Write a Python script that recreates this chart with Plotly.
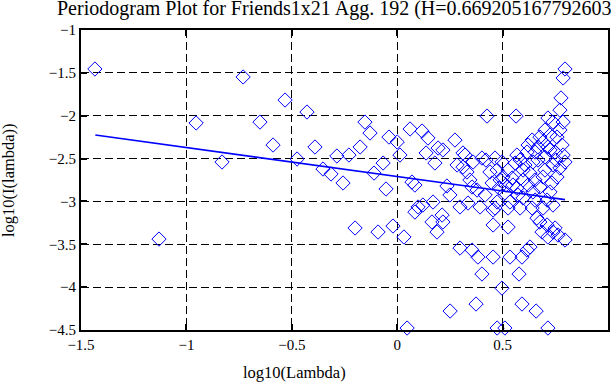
import plotly.graph_objects as go

# Periodogram points: log10(lambda) vs log10(I(lambda))
log_lambda = [
    -1.434, -1.130, -0.954, -0.831, -0.731, -0.651, -0.589, -0.532, -0.475, -0.428,
    -0.390, -0.352, -0.314, -0.286, -0.257, -0.229, -0.200, -0.176, -0.153, -0.129,
    -0.110, -0.091, -0.067, -0.053, -0.039, -0.020, 0.000, 0.013, 0.032, 0.047,
    0.061, 0.070, 0.084, 0.084, 0.099, 0.118, 0.122, 0.137, 0.146, 0.165,
    0.170, 0.179, 0.189, 0.194, 0.213, 0.217, 0.217, 0.236, 0.250, 0.251,
    0.274, 0.284, 0.298, 0.298, 0.312, 0.312, 0.322, 0.331, 0.336, 0.345,
    0.355, 0.355, 0.360, 0.374, 0.379, 0.383, 0.393, 0.402, 0.402, 0.417,
    0.421, 0.426, 0.440, 0.450, 0.455, 0.455, 0.455, 0.464, 0.464, 0.474,
    0.474, 0.474, 0.483, 0.488,
    0.497, 0.497, 0.502, 0.511, 0.511, 0.526, 0.526, 0.526, 0.535, 0.535,
    0.545, 0.559, 0.564, 0.568, 0.568, 0.578, 0.583, 0.592, 0.592, 0.597,
    0.597, 0.597, 0.616, 0.616, 0.630, 0.630, 0.640, 0.640, 0.644, 0.644,
    0.659, 0.663, 0.668, 0.677, 0.677, 0.677, 0.687, 0.692, 0.692, 0.701,
    0.701, 0.711, 0.715, 0.715, 0.715, 0.725, 0.725, 0.734, 0.739, 0.739,
    0.739, 0.749, 0.749, 0.758, 0.758, 0.772, 0.772, 0.777, 0.782, 0.787,
    0.787, 0.787, 0.796, 0.796, 0.796,
    0.549, 0.573, 0.621, 0.654, 0.606, 0.701, 0.668, 0.725, 0.654, 0.621,
    0.583, 0.692, 0.753, 0.772, 0.715, 0.516, 0.711, 0.739, 0.654, 0.763,
]
log_power = [
    -1.455, -3.439, -2.085, -2.540, -1.548, -2.074, -2.342, -1.817, -2.505, -1.957,
    -2.365, -2.622, -2.680, -2.470, -2.785, -2.459, -3.310, -2.365, -2.074, -2.202,
    -2.669, -3.357, -2.552, -2.855, -2.249, -3.287, -2.307, -2.459, -3.415, -4.477,
    -2.155, -2.774, -2.809, -3.124, -3.065, -2.179, -3.042, -2.435, -2.260, -3.240,
    -3.007, -2.552, -3.357, -2.377, -3.159, -2.400, -3.240, -2.820, -2.925, -4.279,
    -2.284, -2.575, -3.065, -3.544, -2.435, -2.599, -2.459, -2.657, -3.019, -2.750,
    -2.832, -3.567, -2.540, -4.197, -2.867, -3.649, -3.065, -2.494, -3.847, -2.925,
    -2.517, -2.004, -2.657, -2.785, -3.100, -3.275, -3.649, -2.494, -3.077, -2.634,
    -3.007, -4.477, -2.844, -2.750,
    -2.540, -4.011, -2.715, -2.902, -4.477, -2.634, -3.077, -3.299, -3.007, -3.649,
    -2.727, -2.552, -2.004, -2.459, -2.844, -3.847, -3.077, -3.649, -4.197, -2.634,
    -2.750, -2.960, -2.424, -3.567, -2.669, -3.532, -2.284, -3.077, -2.540, -2.890,
    -4.279, -3.194, -2.365, -2.249, -2.832, -3.240, -3.357, -2.715, -3.077, -2.167,
    -2.482, -3.275, -2.365, -3.415, -4.477, -2.225, -2.890, -2.785, -2.074, -2.575,
    -3.357, -2.424, -3.310, -2.249, -2.715, -1.934, -2.610, -1.793, -2.342, -1.560,
    -2.074, -2.459, -1.455, -2.540, -3.450,
    -2.809, -2.925, -2.809, -2.750, -2.575, -2.634, -2.517, -2.400, -2.424, -2.342,
    -2.517, -2.307, -2.517, -2.167, -2.027, -2.809, -2.984, -3.042, -2.984, -3.392,
]

# Least-squares fit line endpoints (slope = 1 - 2H)
fit_x = [-1.432, 0.796]
fit_y = [-2.225, -2.979]

x_ticks = [-1.5, -1, -0.5, 0, 0.5, 1]
x_tick_text = ["−1.5", "−1", "−0.5", "0", "0.5", "1"]
y_ticks = [-1, -1.5, -2, -2.5, -3, -3.5, -4, -4.5]
y_tick_text = ["−1", "−1.5", "−2", "−2.5", "−3", "−3.5", "−4", "−4.5"]

title_text = "Periodogram Plot for Friends1x21 Agg. 192 (H=0.6692051677926036)"
x_label = "log10(Lambda)"
y_label = "log10(I(lambda))"

font_family = "Liberation Serif, Times New Roman, serif"

fig = go.Figure()
fig.add_trace(go.Scatter(
    x=log_lambda, y=log_power, mode="markers",
    marker=dict(symbol="diamond-open", size=11, color="#0000ff",
                line=dict(width=1, color="#0000ff")),
    showlegend=False, cliponaxis=False,
))
fig.add_trace(go.Scatter(
    x=fit_x, y=fit_y, mode="lines",
    line=dict(color="#0000ff", width=1.6),
    showlegend=False,
))

axis_common = dict(
    showline=True, linecolor="black", linewidth=2, mirror="ticks",
    ticks="inside", ticklen=6, tickwidth=1.5, tickcolor="black",
    showgrid=True, gridcolor="black", gridwidth=1, griddash="8px,4px",
    zeroline=False, automargin=False,
    tickfont=dict(family=font_family, size=15, color="black"),
)

fig.update_xaxes(range=[-1.5, 1], tickvals=x_ticks, ticktext=x_tick_text, **axis_common)
fig.update_yaxes(range=[-4.5, -1], tickvals=y_ticks, ticktext=y_tick_text, **axis_common)

fig.update_layout(
    width=611, height=385,
    margin=dict(l=81, r=3, t=30, b=55),
    paper_bgcolor="white", plot_bgcolor="white",
    annotations=[
        dict(text=title_text, xref="paper", yref="paper", x=-0.0493, y=1.073,
             xanchor="left", yanchor="middle", showarrow=False,
             font=dict(family=font_family, size=20, color="black")),
        dict(text=x_label, xref="paper", yref="paper", x=0.406, y=-0.14,
             xanchor="center", yanchor="middle", showarrow=False,
             font=dict(family=font_family, size=16.5, color="black")),
        dict(text=y_label, xref="paper", yref="paper", x=-0.1385, y=0.5,
             xanchor="center", yanchor="middle", showarrow=False, textangle=-90,
             font=dict(family=font_family, size=16.5, color="black")),
    ],
)

# Remove the default page margin so the 611x385 figure fills the window exactly.
fig.write_html("out.html", config={"displayModeBar": False},
               post_script="document.body.style.margin='0';")
